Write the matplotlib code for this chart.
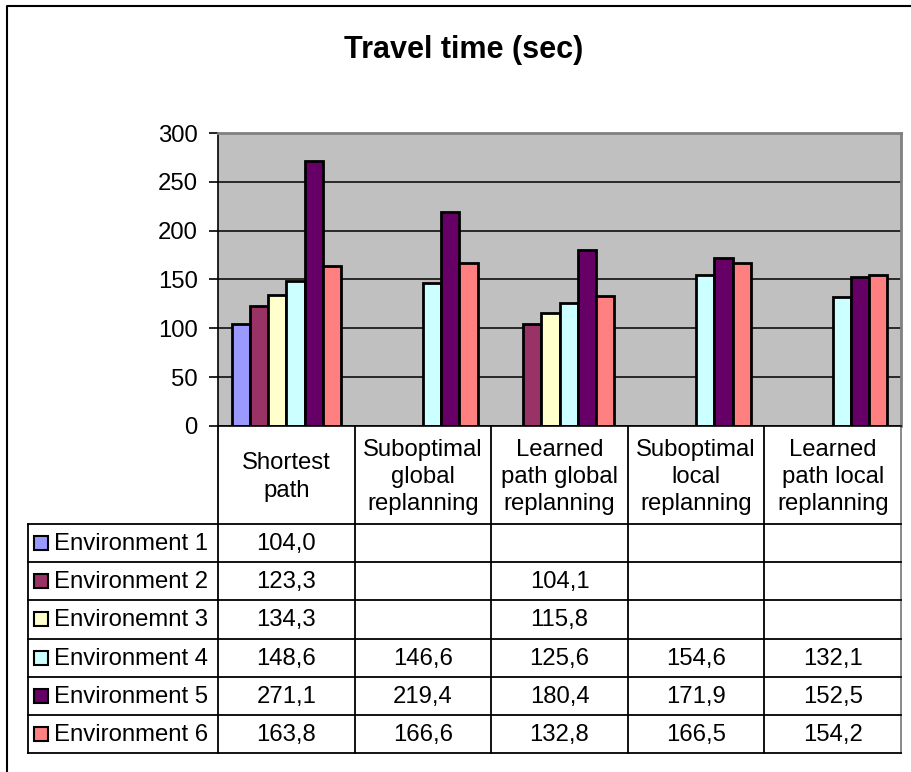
import numpy as np
import matplotlib
matplotlib.use("Agg")
import matplotlib.pyplot as plt

plt.rcParams['font.family'] = ['Liberation Sans', 'DejaVu Sans']

categories = ["Shortest\npath", "Suboptimal\nglobal\nreplanning",
              "Learned\npath global\nreplanning", "Suboptimal\nlocal\nreplanning",
              "Learned\npath local\nreplanning"]
series_names = ["Environment 1", "Environment 2", "Environemnt 3",
                "Environment 4", "Environment 5", "Environment 6"]
env1 = [104.0, None, None, None, None]
env2 = [123.3, None, 104.1, None, None]
env3 = [134.3, None, 115.8, None, None]
env4 = [148.6, 146.6, 125.6, 154.6, 132.1]
env5 = [271.1, 219.4, 180.4, 171.9, 152.5]
env6 = [163.8, 166.6, 132.8, 166.5, 154.2]
series = [env1, env2, env3, env4, env5, env6]
colors = ["#9999FF", "#993366", "#FFFFCC", "#CCFFFF", "#660066", "#FF8080"]

W, H = 912, 772
FS = 17.2
fig = plt.figure(figsize=(W / 100, H / 100), dpi=100)

# pixel layout
px_left, px_right = 218, 901
px_top, px_zero = 133, 426
ax = fig.add_axes([px_left / W, 1 - px_zero / H,
                   (px_right - px_left) / W, (px_zero - px_top) / H])
ax.set_facecolor("#C0C0C0")
ax.set_xlim(-0.5, len(categories) - 0.5)
ax.set_ylim(0, 300)
ax.set_yticks(range(0, 301, 50))
ax.yaxis.grid(True, color="black", lw=1.1, zorder=1)
ax.set_axisbelow(True)
ax.tick_params(axis='y', direction='out', length=6.5, width=1.2,
               labelsize=FS, pad=8)
ax.set_xticks([])
for s in ["top", "right"]:
    ax.spines[s].set_color("#808080")
    ax.spines[s].set_linewidth(2)
ax.spines["left"].set_linewidth(1.2)
ax.spines["bottom"].set_linewidth(1.2)

bw = 0.8 / len(series)
xs = np.arange(len(categories))
for j, (vals, c) in enumerate(zip(series, colors)):
    idx = [i for i, v in enumerate(vals) if v is not None]
    ax.bar(xs[idx] + (j - 2.5) * bw, [vals[i] for i in idx], width=bw,
           color=c, edgecolor="black", linewidth=2, zorder=2)

# overlay in pixel coordinates for frame and data table
ov = fig.add_axes([0, 0, 1, 1], zorder=-1)
ov.set_xlim(0, W)
ov.set_ylim(H, 0)
ov.axis("off")
ov.plot([7, 7, W], [H, 6, 6], color="black", lw=1.5)

ov.text(464, 50, "Travel time (sec)", fontsize=22, fontweight="bold",
        ha="center", va="center")

col_w = (px_right - px_left) / len(categories)
col_edges = [px_left + i * col_w for i in range(len(categories) + 1)]
row_top = 524
row_h = (753 - row_top) / len(series)
row_edges = [row_top + i * row_h for i in range(len(series) + 1)]
tab_left = 28

gridc = "black"
for k, x in enumerate(col_edges):
    ov.plot([x, x], [px_zero, row_edges[-1]],
            color="#808080" if k == len(col_edges) - 1 else gridc, lw=1.3)
ov.plot([tab_left, tab_left], [row_top, row_edges[-1]], color=gridc, lw=1.3)
for y in row_edges:
    ov.plot([tab_left, px_right], [y, y], color=gridc, lw=1.3)

for i, cat in enumerate(categories):
    ov.text((col_edges[i] + col_edges[i + 1]) / 2, (px_zero + row_top) / 2 + 2,
            cat, fontsize=FS, ha="center", va="center", linespacing=1.3)

for j, (name, vals, c) in enumerate(zip(series_names, series, colors)):
    yc = (row_edges[j] + row_edges[j + 1]) / 2
    ov.add_patch(plt.Rectangle((34, yc - 7), 14, 14, facecolor=c,
                               edgecolor="black", lw=1.5))
    ov.text(54, yc + 1, name, fontsize=FS, ha="left", va="center")
    for i, v in enumerate(vals):
        if v is not None:
            ov.text((col_edges[i] + col_edges[i + 1]) / 2, yc + 1,
                    f"{v:.1f}".replace(".", ","), fontsize=FS,
                    ha="center", va="center")

fig.savefig("out.png", dpi=100, facecolor="white")
